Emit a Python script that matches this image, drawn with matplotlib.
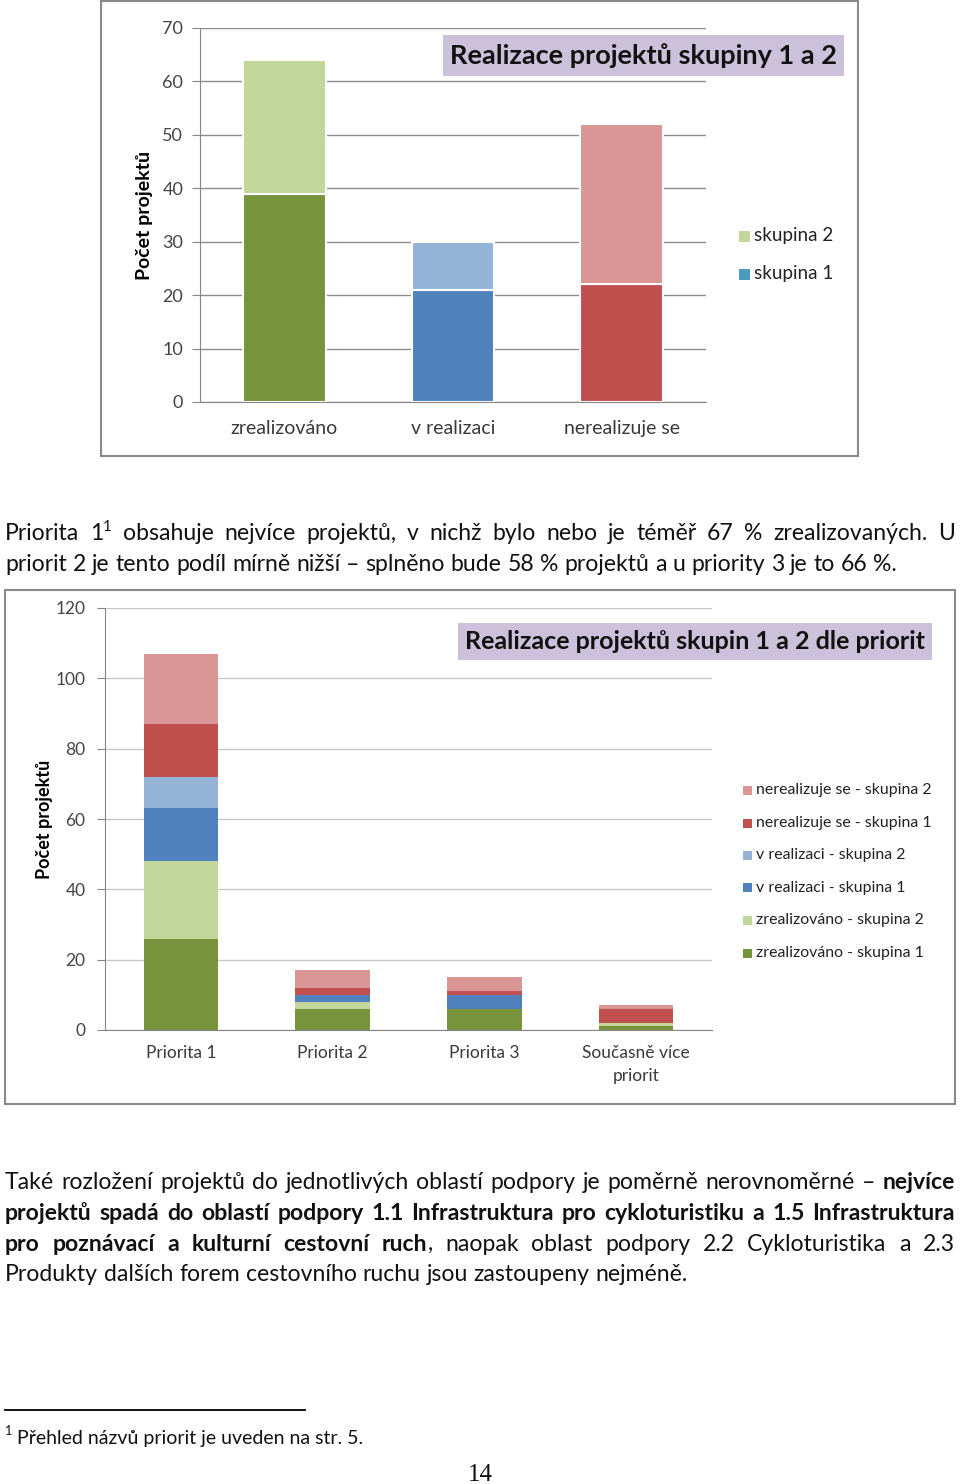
import matplotlib
matplotlib.use('Agg')
import matplotlib.pyplot as plt
from matplotlib.patches import Rectangle
import numpy as np

# --- data: graf 1 ---
kategorie = ['zrealizováno', 'v realizaci', 'nerealizuje se']
skupina1 = [39, 21, 22]
skupina2 = [25, 9, 30]

# --- data: graf 2 (dle priorit) ---
priority = ['Priorita 1', 'Priorita 2', 'Priorita 3', 'Současně více\npriorit']
zreal_s1 = [26, 6, 6, 1]
zreal_s2 = [22, 2, 0, 1]
vreal_s1 = [15, 2, 4, 0]
vreal_s2 = [9, 0, 0, 0]
nereal_s1 = [15, 2, 1, 4]
nereal_s2 = [20, 5, 4, 1]
serie2 = ['zrealizováno - skupina 1', 'zrealizováno - skupina 2',
          'v realizaci - skupina 1', 'v realizaci - skupina 2',
          'nerealizuje se - skupina 1', 'nerealizuje se - skupina 2']

# barvy
c_g1, c_g2 = '#77933C', '#C3D69B'
c_b1, c_b2 = '#4F81BD', '#95B3D7'
c_r1, c_r2 = '#C0504D', '#D99694'
lavender = '#CCC1DA'
FONT = 'Lato'

W, H = 960, 1484
fig = plt.figure(figsize=(9.6, 14.84), dpi=100)


def fx(x):
    return x / W


def fy(y):
    return 1 - y / H


def ramecek(x0, y0, x1, y1):
    fig.add_artist(Rectangle((fx(x0), fy(y1)), fx(x1 - x0), (y1 - y0) / H,
                             transform=fig.transFigure, fill=False,
                             ec='#8A8A8A', lw=1.5))


def titulek(x0, y0, x1, y1, txt, size):
    fig.add_artist(Rectangle((fx(x0), fy(y1)), fx(x1 - x0), (y1 - y0) / H,
                             transform=fig.transFigure, fc=lavender, ec='none', zorder=5))
    fig.text(fx((x0 + x1) / 2), fy((y0 + y1) / 2), txt, ha='center', va='center',
             fontsize=size, fontweight='bold', family=FONT, color='#111111', zorder=6)


def legenda(x, ys, labels, colors, size, sq):
    for y, lab, col in zip(ys, labels, colors):
        fig.add_artist(Rectangle((fx(x), fy(y + sq / 2)), fx(sq), sq / H,
                                 transform=fig.transFigure, fc=col, ec='none'))
        fig.text(fx(x + sq + 4), fy(y), lab, va='center', ha='left',
                 fontsize=size, family=FONT, color='#222222')


def osy(ax, gridcol):
    for s in ['top', 'right']:
        ax.spines[s].set_visible(False)
    ax.spines['left'].set_color('#868686')
    ax.spines['bottom'].set_color('#868686')
    ax.yaxis.grid(True, color=gridcol, lw=1)
    ax.set_axisbelow(True)
    ax.tick_params(axis='y', length=6, color='#868686', labelcolor='#444444')
    ax.tick_params(axis='x', length=0, labelcolor='#3A3A3A')
    for t in ax.get_xticklabels() + ax.get_yticklabels():
        t.set_family(FONT)


# ================= graf 1 =================
ramecek(101, 1, 858, 456)
ax1 = fig.add_axes([fx(200), fy(402), fx(506), 374 / H])
x = np.arange(len(kategorie))
ax1.bar(x, skupina1, 0.49, color=[c_g1, c_b1, c_r1], edgecolor='white', lw=1.5)
ax1.bar(x, skupina2, 0.49, bottom=skupina1, color=[c_g2, c_b2, c_r2],
        edgecolor='white', lw=1.5)
ax1.set_xlim(-0.5, 2.5)
ax1.set_ylim(0, 70)
ax1.set_yticks(range(0, 71, 10))
ax1.set_xticks(x)
ax1.set_xticklabels(kategorie, fontsize=14)
ax1.tick_params(axis='y', labelsize=13, pad=6)
ax1.tick_params(axis='x', pad=13)
osy(ax1, '#8C8C8C')
ax1.set_ylabel('Počet projektů', fontsize=14, fontweight='bold', family=FONT)
ax1.yaxis.set_label_coords(-0.092, 0.5)
titulek(443, 35, 844, 76, 'Realizace projektů skupiny 1 a 2', 19.5)
legenda(739, [236, 274], ['skupina 2', 'skupina 1'], [c_g2, '#4A9BC0'], 13.6, 11)

# ================= graf 2 =================
ramecek(5, 590, 955, 1104)
ax2 = fig.add_axes([fx(105), fy(1030), fx(607), 422 / H])
x2 = np.arange(len(priority))
vrstvy = [zreal_s1, zreal_s2, vreal_s1, vreal_s2, nereal_s1, nereal_s2]
barvy = [c_g1, c_g2, c_b1, c_b2, c_r1, c_r2]
dno = np.zeros(len(priority))
for vals, col in zip(vrstvy, barvy):
    ax2.bar(x2, vals, 0.49, bottom=dno, color=col, edgecolor='none')
    dno = dno + np.array(vals)
ax2.set_xlim(-0.5, 3.5)
ax2.set_ylim(0, 120)
ax2.set_yticks(range(0, 121, 20))
ax2.set_xticks(x2)
ax2.set_xticklabels(priority, fontsize=12.5, va='top', linespacing=1.55)
ax2.tick_params(axis='y', labelsize=12.5, pad=8)
ax2.tick_params(axis='x', pad=11)
osy(ax2, '#C8C8C8')
ax2.set_ylabel('Počet projektů', fontsize=13, fontweight='bold', family=FONT)
ax2.yaxis.set_label_coords(-0.086, 0.5)
titulek(458, 623, 932, 660, 'Realizace projektů skupin 1 a 2 dle priorit', 18)
leg_y = [953, 920, 888, 855, 823, 790]
legenda(743, leg_y[::-1], serie2[::-1], barvy[::-1], 11.4, 9)

# ================= text stranky =================
rend = fig.canvas.get_renderer()


def radek(tokens, yb, size, justify=True, x0=5, x1=955):
    # tokens: (text, styl, prilepit)  styl: n / b / s(uperscript)
    slova = []
    for txt, st, glue in tokens:
        fs = size * 0.65 if st == 's' else size
        dy = 9 if st == 's' else 0
        a = fig.text(0, fy(yb - dy), txt, fontsize=fs, family=FONT, ha='left',
                     va='baseline', color='#111111',
                     fontweight='bold' if st == 'b' else 'normal')
        w = a.get_window_extent(rend).width
        if glue and slova:
            slova[-1].append((a, w))
        else:
            slova.append([(a, w)])
    sirky = [sum(w for _, w in s) for s in slova]
    t1 = fig.text(0, 0, 'x x', fontsize=size, family=FONT)
    t2 = fig.text(0, 0, 'xx', fontsize=size, family=FONT)
    mezera = t1.get_window_extent(rend).width - t2.get_window_extent(rend).width
    t1.remove()
    t2.remove()
    if justify and len(slova) > 1:
        mezera = (x1 - x0 - sum(sirky)) / (len(slova) - 1)
    xp = x0
    for s, sw in zip(slova, sirky):
        xx = xp
        for a, w in s:
            a.set_x(fx(xx))
            xx += w
        xp += sw + mezera


def prosty(text, st='n'):
    return [(w, st, False) for w in text.split()]


SZ = 16.6
radek([('Priorita', 'n', False), ('1', 'n', False), ('1', 's', True)]
      + prosty('obsahuje nejvíce projektů, v nichž bylo nebo je téměř 67 % zrealizovaných. U'),
      540, SZ)
radek(prosty('priorit 2 je tento podíl mírně nižší – splněno bude 58 % projektů a u priority 3 je to 66 %.'),
      571, SZ, justify=False)

radek(prosty('Také rozložení projektů do jednotlivých oblastí podpory je poměrně nerovnoměrné –')
      + prosty('nejvíce', 'b'), 1189, SZ)
radek(prosty('projektů spadá do oblastí podpory 1.1 Infrastruktura pro cykloturistiku a 1.5 Infrastruktura', 'b'),
      1220, SZ)
radek(prosty('pro poznávací a kulturní cestovní ruch', 'b') + [(',', 'n', True)]
      + prosty('naopak oblast podpory 2.2 Cykloturistika a 2.3'), 1251, SZ)
radek(prosty('Produkty dalších forem cestovního ruchu jsou zastoupeny nejméně.'),
      1281, SZ, justify=False)

# poznamka pod carou
fig.add_artist(plt.Line2D([fx(5), fx(305)], [fy(1410), fy(1410)],
                          transform=fig.transFigure, color='black', lw=1.3))
radek([('1', 's', False), ('Přehled názvů priorit je uveden na str. 5.', 'n', False)],
      1444, 14, justify=False)
fig.text(fx(480), fy(1481), '14', ha='center', va='baseline', fontsize=18,
         family='Liberation Serif', color='#111111')

fig.savefig('out.png', dpi=100)
